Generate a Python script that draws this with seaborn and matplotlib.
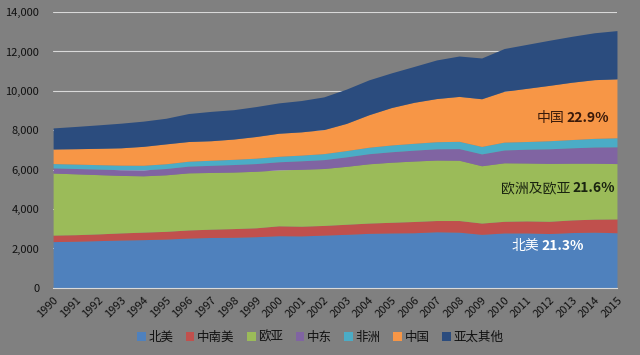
import numpy as np
import pandas as pd
import seaborn as sns
import matplotlib.pyplot as plt

sns.set_theme(style="white")
plt.rcParams['font.family'] = ['Noto Sans CJK SC', 'DejaVu Sans']

# data (stacked layers)
years = list(range(1990, 2016))
north_america = [2350, 2370, 2400, 2430, 2450, 2480, 2530, 2560, 2570, 2600, 2650, 2640, 2680,
                 2720, 2770, 2790, 2800, 2850, 2830, 2720, 2790, 2790, 2760, 2810, 2830, 2800]
latin_america = [330, 330, 340, 360, 380, 390, 410, 420, 440, 450, 500, 490, 490,
                 510, 520, 540, 570, 570, 590, 570, 590, 610, 620, 640, 660, 700]
eurasia = [3150, 3090, 3010, 2920, 2860, 2870, 2900, 2880, 2870, 2870, 2840, 2890, 2890,
           2940, 3010, 3050, 3070, 3070, 3060, 2910, 2970, 2940, 2940, 2880, 2840, 2810]
middle_east = [260, 270, 280, 290, 300, 320, 340, 360, 380, 390, 410, 430, 450,
               480, 510, 530, 550, 570, 590, 600, 650, 700, 740, 780, 820, 850]
africa = [220, 225, 225, 230, 235, 240, 250, 260, 265, 275, 280, 290, 305,
          320, 330, 345, 350, 360, 370, 380, 400, 390, 410, 420, 440, 460]
china = [740, 780, 830, 880, 960, 1010, 1000, 990, 1030, 1100, 1170, 1180, 1220,
         1380, 1650, 1900, 2080, 2190, 2280, 2420, 2580, 2700, 2810, 2910, 2980, 2990]
asia_other = [1070, 1130, 1190, 1250, 1280, 1300, 1420, 1490, 1490, 1520, 1540, 1590, 1660,
              1740, 1770, 1760, 1820, 1960, 2050, 2070, 2170, 2230, 2290, 2330, 2380, 2450]

labels = ['北美', '中南美', '欧亚', '中东', '非洲', '中国', '亚太其他']
colors = ['#4f81bd', '#c0504d', '#9bbb59', '#8064a2', '#4bacc6', '#f79646', '#2b4c7e']

df = pd.DataFrame({'year': years, '北美': north_america, '中南美': latin_america,
                   '欧亚': eurasia, '中东': middle_east, '非洲': africa,
                   '中国': china, '亚太其他': asia_other})

bg = '#808080'
fig = plt.figure(figsize=(6.4, 3.55), dpi=100, facecolor=bg)
ax = fig.add_axes([0.083, 0.189, 0.881, 0.777], facecolor=bg)

ax.stackplot(df['year'], [df[c] for c in labels], labels=labels, colors=colors, lw=0)

ax.set_xlim(1990, 2015)
ax.set_ylim(0, 14000)
ax.set_yticks(range(0, 14001, 2000))
ax.set_yticklabels([f'{v:,}' for v in range(0, 14001, 2000)], fontsize=8, color='#111111')
ax.set_xticks(years)
ax.set_xticklabels([str(y) for y in years], rotation=45, ha='right',
                   rotation_mode='anchor', fontsize=8, color='#111111')
ax.tick_params(axis='y', length=0, pad=10)
ax.tick_params(axis='x', length=3, color='#d9d9d9', direction='out', pad=2)
for y in range(2000, 14001, 2000):
    ax.axhline(y, color='#d9d9d9', lw=0.8, zorder=0)
for s in ['top', 'right', 'left']:
    ax.spines[s].set_visible(False)
ax.spines['bottom'].set_color('#d9d9d9')
ax.spines['bottom'].set_linewidth(0.8)

# region share labels
def share(x, y, name, pct, color):
    ax.text(x, y, name, transform=ax.transAxes, ha='right', va='center',
            fontsize=10, color=color)
    ax.text(x + 0.004, y, pct, transform=ax.transAxes, ha='left', va='center',
            fontsize=10, fontweight='bold', color=color)

share(0.906, 0.616, '中国', '22.9%', '#3a1a0a')
share(0.918, 0.362, '欧洲及欧亚', '21.6%', '#1a2410')
share(0.863, 0.152, '北美', '21.3%', 'white')

fig.legend(*ax.get_legend_handles_labels(), loc='center', bbox_to_anchor=(0.5, 0.05),
           ncol=7, frameon=False, fontsize=9, handlelength=0.7, handleheight=0.7,
           handletextpad=0.2, columnspacing=1.0, labelcolor='#111111')

fig.savefig('out.png', dpi=100, facecolor=bg)
